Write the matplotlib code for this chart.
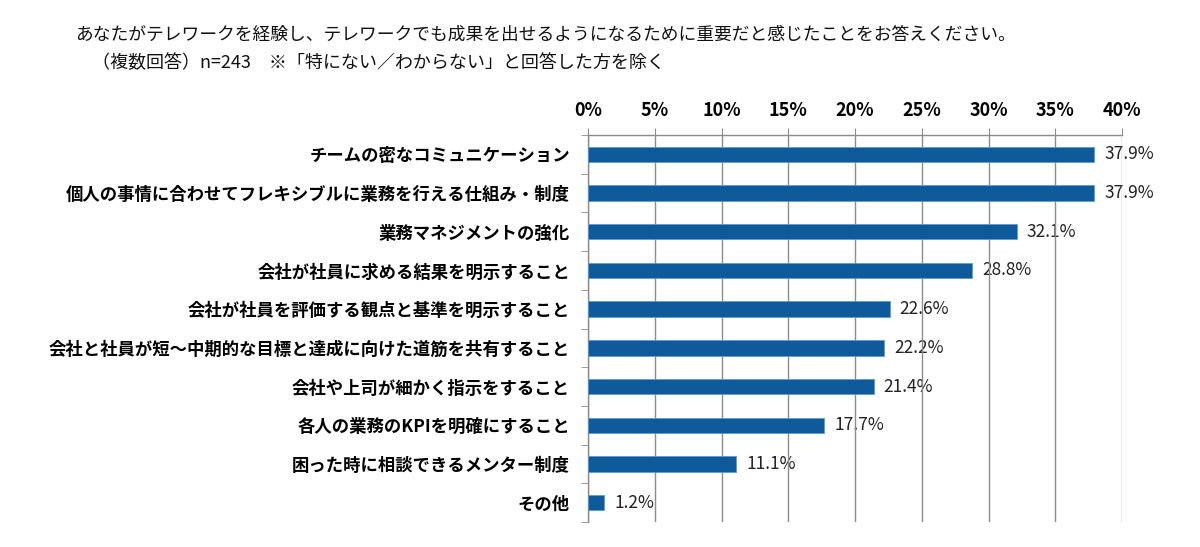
import numpy as np
import matplotlib
matplotlib.use("Agg")
import matplotlib.pyplot as plt
from matplotlib.ticker import FixedLocator

plt.rcParams['font.family'] = ['Noto Sans CJK JP', 'DejaVu Sans']

# data
categories = [
    "チームの密なコミュニケーション",
    "個人の事情に合わせてフレキシブルに業務を行える仕組み・制度",
    "業務マネジメントの強化",
    "会社が社員に求める結果を明示すること",
    "会社が社員を評価する観点と基準を明示すること",
    "会社と社員が短～中期的な目標と達成に向けた道筋を共有すること",
    "会社や上司が細かく指示をすること",
    "各人の業務のKPIを明確にすること",
    "困った時に相談できるメンター制度",
    "その他",
]
values = [37.9, 37.9, 32.1, 28.8, 22.6, 22.2, 21.4, 17.7, 11.1, 1.2]
xticks = [0, 5, 10, 15, 20, 25, 30, 35, 40]

title1 = "あなたがテレワークを経験し、テレワークでも成果を出せるようになるために重要だと感じたことをお答えください。"
title2 = "（複数回答）n=243　※「特にない／わからない」と回答した方を除く"

bar_color = '#0f5a9b'
grid_color = '#8c8c8c'

fig = plt.figure(figsize=(12, 5.47), dpi=100)
ax = fig.add_axes([0.49, 0.0457, 0.445, 0.7075])

y = np.arange(len(categories))
ax.barh(y, values, height=0.4, color=bar_color, edgecolor='#5b9bd5',
        linewidth=0.6, zorder=3)
ax.set_ylim(len(categories) - 0.5, -0.5)
ax.set_xlim(0, 40)

# value labels (drawn under the grid like the original)
for yi, v in zip(y, values):
    ax.text(v + 0.75, yi, f"{v:.1f}%", va='center', ha='left',
            fontsize=12.5, color='#222222', zorder=1)

ax.xaxis.tick_top()
ax.set_xticks(xticks)
ax.set_xticklabels([f"{t}%" for t in xticks], fontsize=13, fontweight='bold')
ax.tick_params(axis='x', direction='out', length=5, color=grid_color, pad=6)
ax.grid(axis='x', color=grid_color, linewidth=1.0, zorder=2)
ax.set_axisbelow(False)

ax.set_yticks(y)
ax.set_yticklabels(categories, fontsize=12.5, fontweight='bold')
ax.tick_params(axis='y', length=0, pad=13)
ax.yaxis.set_minor_locator(FixedLocator(np.arange(-0.5, len(categories), 1)))
ax.tick_params(axis='y', which='minor', direction='out', length=5, color=grid_color)

for s in ['right', 'bottom']:
    ax.spines[s].set_visible(False)
for s in ['left', 'top']:
    ax.spines[s].set_color(grid_color)
    ax.spines[s].set_linewidth(1.0)

fig.text(0.0625, 0.937, title1, fontsize=12.8, ha='left', va='center', color='#111111')
fig.text(0.077, 0.885, title2, fontsize=13, ha='left', va='center', color='#111111')

fig.savefig('out.png', dpi=100, facecolor='white')
